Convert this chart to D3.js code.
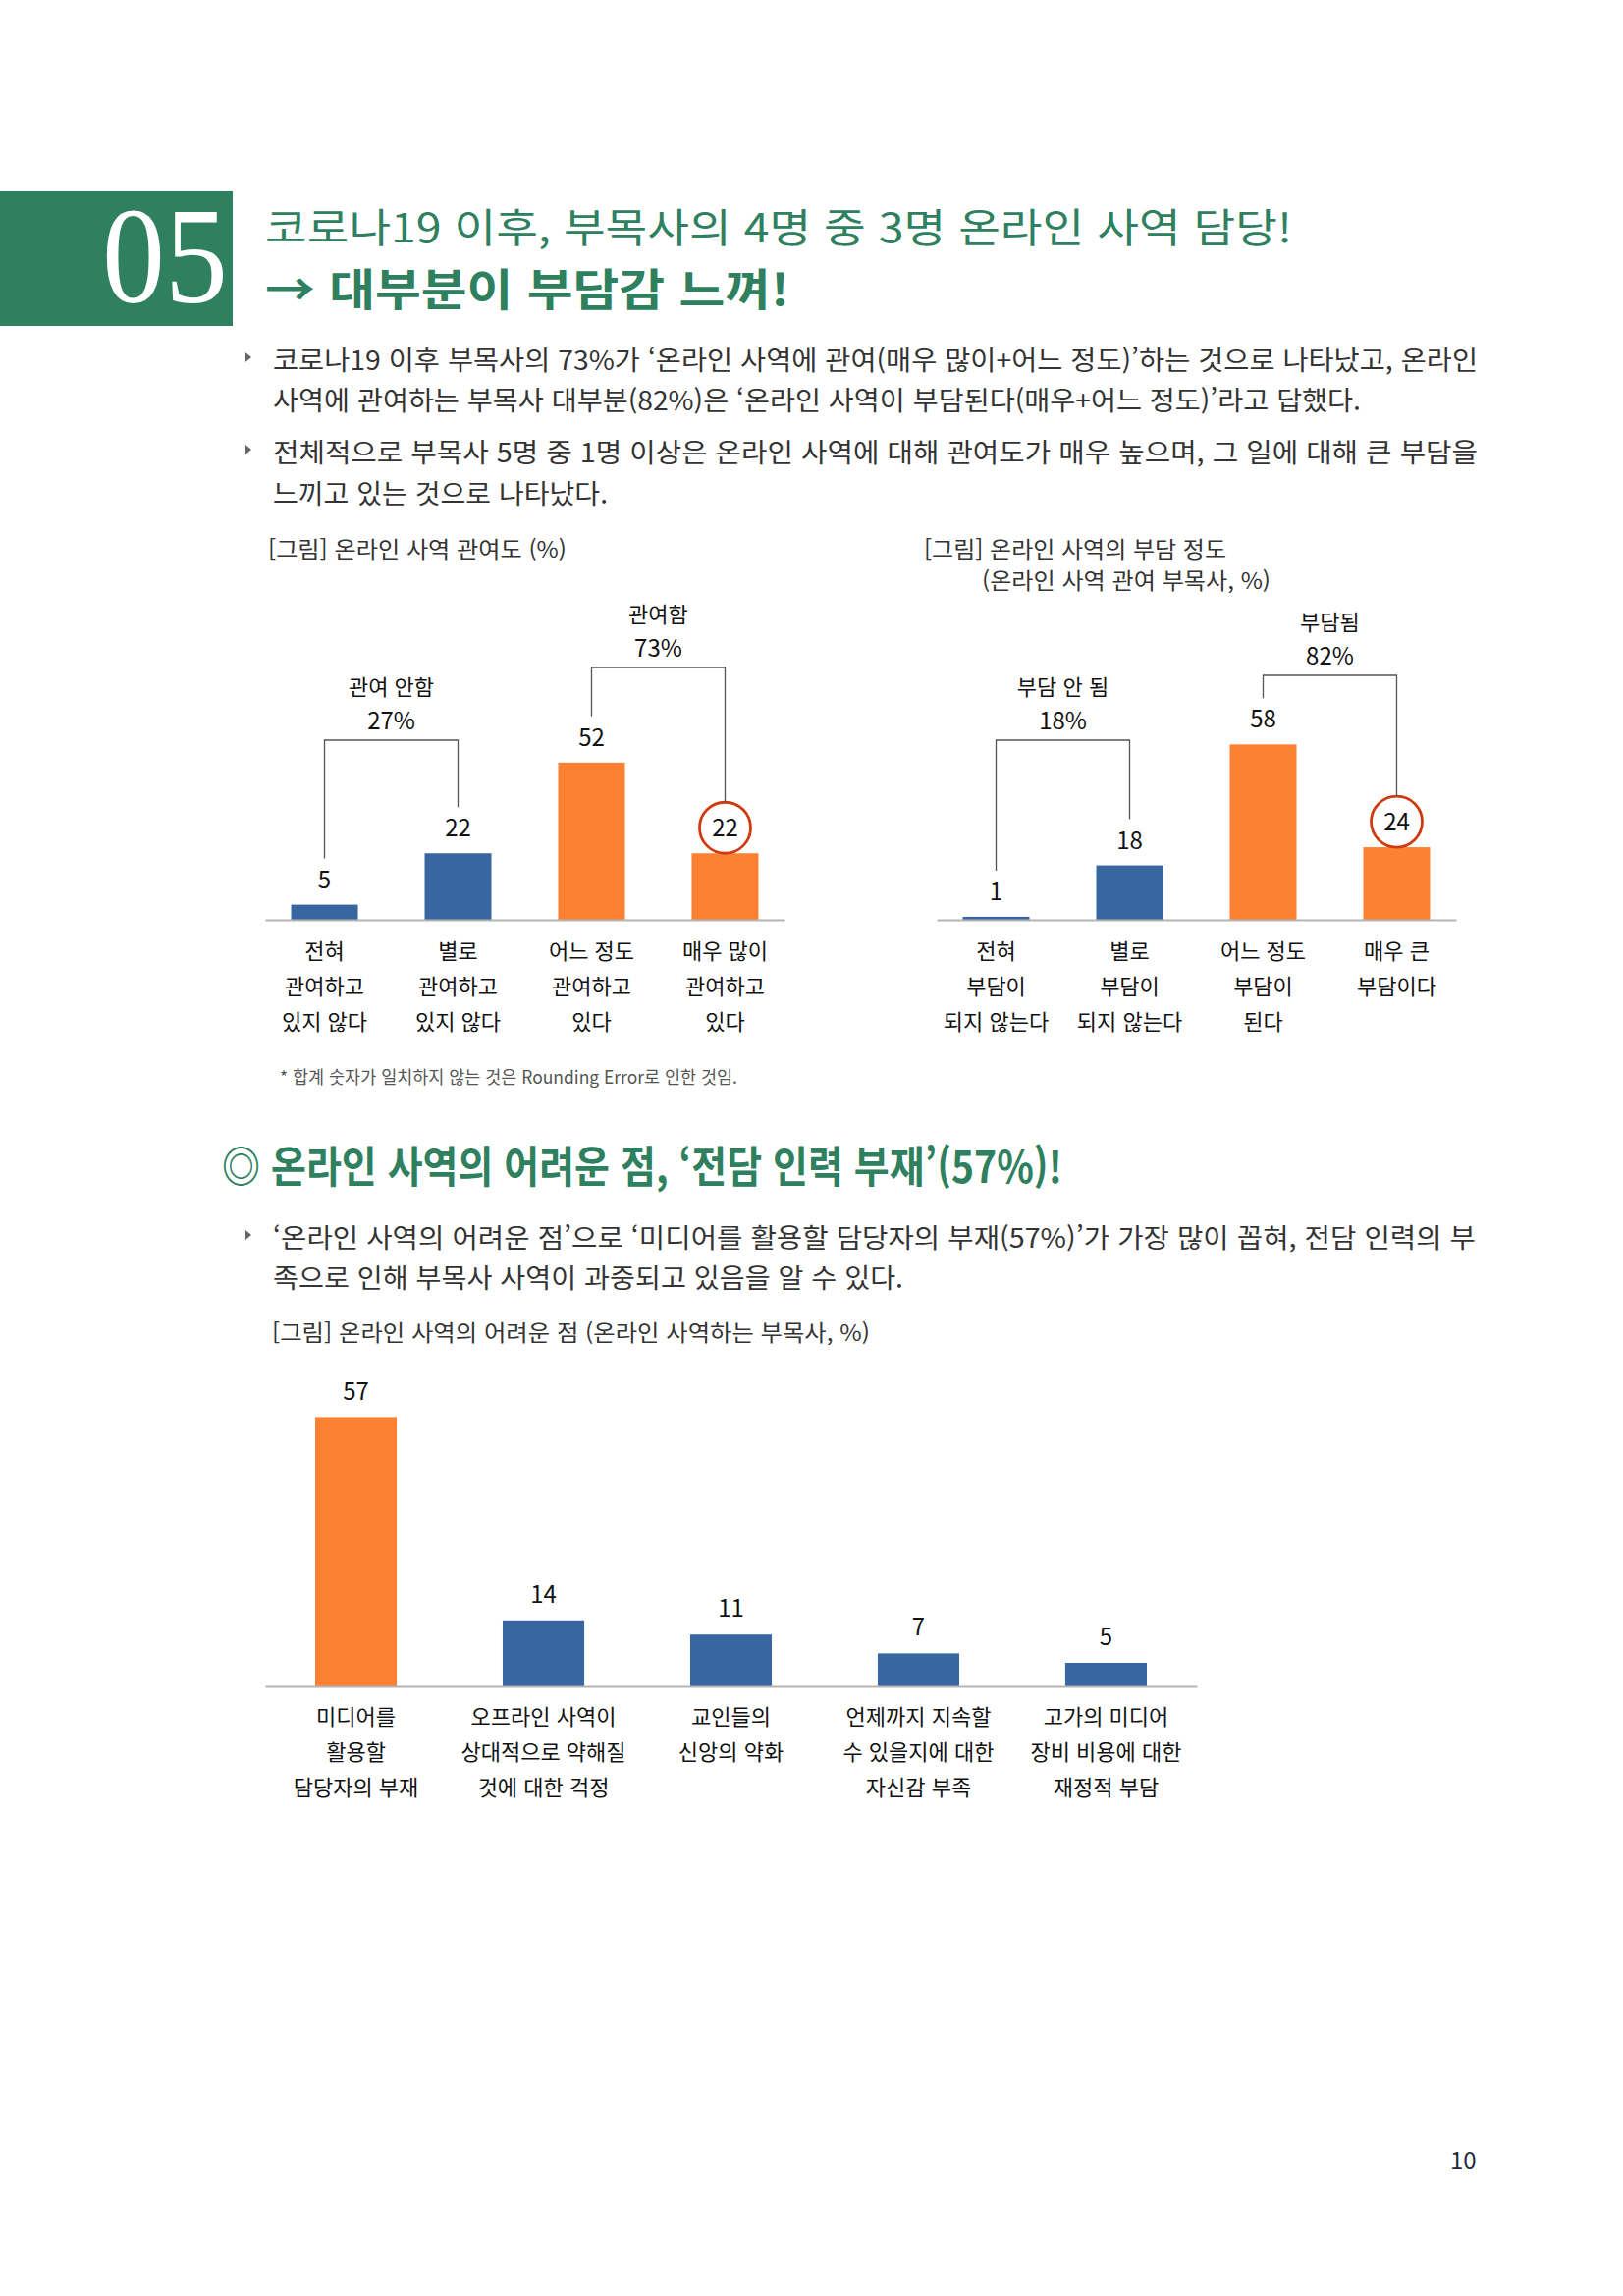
<!DOCTYPE html>
<html lang="ko">
<head>
<meta charset="utf-8">
<script src="https://cdn.jsdelivr.net/npm/d3@7"></script>
<style>
  body { margin: 0; background: #fff; }
  svg { display: block; font-family: "Noto Sans CJK KR", "Noto Sans", sans-serif; }
</style>
</head>
<body>
<div id="page"></div>
<script>
// chart data

var involveCats = ["전혀\n관여하고\n있지 않다", "별로\n관여하고\n있지 않다", "어느 정도\n관여하고\n있다", "매우 많이\n관여하고\n있다"];
var involveValues = [5, 22, 52, 22];
var involveGroupOf = [0, 0, 1, 1];
var involveGroups = ["관여 안함", "관여함"];
var involveTotals = ["27%", "73%"];
var involveCircled = 3;

var burdenCats = ["전혀\n부담이\n되지 않는다", "별로\n부담이\n되지 않는다", "어느 정도\n부담이\n된다", "매우 큰\n부담이다"];
var burdenValues = [1, 18, 58, 24];
var burdenGroupOf = [0, 0, 1, 1];
var burdenGroups = ["부담 안 됨", "부담됨"];
var burdenTotals = ["18%", "82%"];
var burdenCircled = 3;

var hardCats = ["미디어를\n활용할\n담당자의 부재", "오프라인 사역이\n상대적으로 약해질\n것에 대한 걱정", "교인들의\n신앙의 약화", "언제까지 지속할\n수 있을지에 대한\n자신감 부족", "고가의 미디어\n장비 비용에 대한\n재정적 부담"];
var hardValues = [57, 14, 11, 7, 5];

var GREEN = "#2f805f";
var ORANGE = "#fd8033";
var BLUE = "#3866a0";

var svg = d3.select('#page')
    .append('svg')
    .attr('width', 1653)
    .attr('height', 2339);

// fixed-width text line (the page text is justified)
function textLine(txt, x, y, size, width, opts) {
    opts = opts || {};
    var t = svg.append('text')
        .attr('x', x)
        .attr('y', y)
        .style('font-size', size + 'px')
        .style('font-weight', opts.weight || 400)
        .attr('fill', opts.fill || '#333')
        .text(txt);
    if (width) {
        t.attr('textLength', width).attr('lengthAdjust', 'spacingAndGlyphs');
    }
    if (opts.family) t.style('font-family', opts.family);
    return t;
}

function bullet(x, y) {
    svg.append('path')
        .attr('d', 'M' + x + ',' + (y - 5) + 'L' + (x + 6) + ',' + y + 'L' + x + ',' + (y + 5) + 'Z')
        .attr('fill', '#666');
}

// ---- header
svg.append('rect')
    .attr('x', 0).attr('y', 195)
    .attr('width', 237).attr('height', 137)
    .attr('fill', GREEN);

textLine('05', 104, 308, 140, 128, {fill: '#fff', family: '"Liberation Serif", serif'});
textLine('코로나19 이후, 부목사의 4명 중 3명 온라인 사역 담당!', 270, 247, 41, 1046, {fill: GREEN});
textLine('→ 대부분이 부담감 느껴!', 270, 312, 45, 534, {fill: GREEN, weight: 700});

bullet(250, 364);
textLine('코로나19 이후 부목사의 73%가 ‘온라인 사역에 관여(매우 많이+어느 정도)’하는 것으로 나타났고, 온라인', 278, 377, 27, 1227);
textLine('사역에 관여하는 부목사 대부분(82%)은 ‘온라인 사역이 부담된다(매우+어느 정도)’라고 답했다.', 278, 418, 27, 1108);
bullet(250, 458);
textLine('전체적으로 부목사 5명 중 1명 이상은 온라인 사역에 대해 관여도가 매우 높으며, 그 일에 대해 큰 부담을', 278, 471, 27, 1227);
textLine('느끼고 있는 것으로 나타났다.', 278, 513, 27, 341);

// ---- bar chart with group brackets
function bracketChart(cats, values, groupOf, groups, totals, circled, x0, x1, levels) {
    var axisY = 937;
    var r = 26;

    var x_scale = d3.scaleBand()
        .domain(cats)
        .range([x0, x1])
        .paddingInner(0.5)
        .paddingOuter(0.195);

    var y_scale = d3.scaleLinear()
        .domain([0, 60])
        .range([axisY, axisY - 184.8]);

    var color = d3.scaleOrdinal().domain([0, 1]).range([BLUE, ORANGE]);

    var g = svg.append('g');
    var data = cats.map(function(c, i) {
        return {cat: c, value: values[i], group: groupOf[i], idx: i};
    });
    var cx = function(d) { return x_scale(d.cat) + x_scale.bandwidth() / 2; };

    g.selectAll('rect.bar')
        .data(data)
        .enter()
        .append('rect')
        .attr('class', 'bar')
        .attr('x', function(d) { return x_scale(d.cat); })
        .attr('y', function(d) { return y_scale(d.value); })
        .attr('width', x_scale.bandwidth())
        .attr('height', function(d) { return axisY - y_scale(d.value); })
        .attr('fill', function(d) { return color(d.group); });

    // axis line only
    var axis = g.append('g')
        .attr('transform', 'translate(0,' + axisY + ')')
        .call(d3.axisBottom(x_scale).tickSize(0).tickSizeOuter(0).tickFormat(''));
    axis.select('.domain').attr('stroke', '#b4b4b4').attr('stroke-width', 2);

    // value labels
    g.selectAll('text.val')
        .data(data)
        .enter()
        .append('text')
        .attr('class', 'val')
        .attr('x', cx)
        .attr('y', function(d) { return y_scale(d.value) - 17; })
        .attr('text-anchor', 'middle')
        .style('font-size', '24px')
        .attr('fill', '#111')
        .text(function(d) { return d.value; });

    // circled value
    var hd = data[circled];
    g.append('circle')
        .attr('cx', cx(hd))
        .attr('cy', y_scale(hd.value) - r)
        .attr('r', r)
        .attr('fill', 'none')
        .attr('stroke', '#cf3a0e')
        .attr('stroke-width', 2.8);

    // category labels
    g.selectAll('text.cat')
        .data(data)
        .enter()
        .append('text')
        .attr('class', 'cat')
        .attr('text-anchor', 'middle')
        .style('font-size', '22px')
        .attr('fill', '#111')
        .each(function(d) {
            var t = d3.select(this);
            d.cat.split('\n').forEach(function(line, k) {
                t.append('tspan')
                    .attr('x', cx(d))
                    .attr('y', axisY + 40 + k * 36)
                    .text(line);
            });
        });

    // brackets
    groups.forEach(function(name, gi) {
        var members = data.filter(function(d) { return d.group === gi; });
        var a = members[0], b = members[members.length - 1];
        var top = axisY - levels[gi];
        var legEnd = function(d) {
            return d.idx === circled ? y_scale(d.value) - 2 * r : y_scale(d.value) - 47;
        };
        g.append('path')
            .attr('d', 'M' + cx(a) + ',' + legEnd(a) + 'V' + top + 'H' + cx(b) + 'V' + legEnd(b))
            .attr('fill', 'none')
            .attr('stroke', '#555')
            .attr('stroke-width', 1.3);
        var mid = (cx(a) + cx(b)) / 2;
        g.append('text')
            .attr('x', mid).attr('y', top - 46)
            .attr('text-anchor', 'middle')
            .style('font-size', '22px')
            .attr('fill', '#111')
            .text(name);
        g.append('text')
            .attr('x', mid).attr('y', top - 11)
            .attr('text-anchor', 'middle')
            .style('font-size', '24px')
            .attr('fill', '#111')
            .text(totals[gi]);
    });
}

textLine('[그림] 온라인 사역 관여도 (%)', 273, 568, 23, 304);
bracketChart(involveCats, involveValues, involveGroupOf, involveGroups, involveTotals, involveCircled, 270, 799, [183, 257]);
textLine('* 합계 숫자가 일치하지 않는 것은 Rounding Error로 인한 것임.', 285, 1104, 18, 466, {fill: '#555'});

textLine('[그림] 온라인 사역의 부담 정도', 941, 568, 23, 308);
textLine('(온라인 사역 관여 부목사, %)', 1000, 600, 23, 294);
bracketChart(burdenCats, burdenValues, burdenGroupOf, burdenGroups, burdenTotals, burdenCircled, 954, 1483, [183, 249]);

// ---- section 2
textLine('◎ 온라인 사역의 어려운 점, ‘전담 인력 부재’(57%)!', 226, 1205, 44, 856, {fill: GREEN, weight: 700});
bullet(250, 1258);
textLine('‘온라인 사역의 어려운 점’으로 ‘미디어를 활용할 담당자의 부재(57%)’가 가장 많이 꼽혀, 전담 인력의 부', 278, 1271, 27, 1225);
textLine('족으로 인해 부목사 사역이 과중되고 있음을 알 수 있다.', 278, 1312, 27, 642);
textLine('[그림] 온라인 사역의 어려운 점 (온라인 사역하는 부목사, %)', 277, 1366, 23, 609);

(function() {
    var axisY = 1718;
    var x_scale = d3.scaleBand()
        .domain(hardCats)
        .range([270, 1219])
        .paddingInner(0.565)
        .paddingOuter(0.267);
    var y_scale = d3.scaleLinear()
        .domain([0, 57])
        .range([axisY, axisY - 57 * 4.8]);
    var maxV = d3.max(hardValues);
    var data = hardCats.map(function(c, i) { return {cat: c, value: hardValues[i]}; });
    var cx = function(d) { return x_scale(d.cat) + x_scale.bandwidth() / 2; };
    var g = svg.append('g');

    g.selectAll('rect')
        .data(data)
        .enter()
        .append('rect')
        .attr('x', function(d) { return x_scale(d.cat); })
        .attr('y', function(d) { return y_scale(d.value); })
        .attr('width', x_scale.bandwidth())
        .attr('height', function(d) { return axisY - y_scale(d.value); })
        .attr('fill', function(d) { return d.value === maxV ? ORANGE : BLUE; });

    var axis = g.append('g')
        .attr('transform', 'translate(0,' + axisY + ')')
        .call(d3.axisBottom(x_scale).tickSize(0).tickSizeOuter(0).tickFormat(''));
    axis.select('.domain').attr('stroke', '#b4b4b4').attr('stroke-width', 2);

    g.selectAll('text.val')
        .data(data)
        .enter()
        .append('text')
        .attr('class', 'val')
        .attr('x', cx)
        .attr('y', function(d) { return y_scale(d.value) - 18; })
        .attr('text-anchor', 'middle')
        .style('font-size', '24px')
        .attr('fill', '#111')
        .text(function(d) { return d.value; });

    g.selectAll('text.cat')
        .data(data)
        .enter()
        .append('text')
        .attr('class', 'cat')
        .attr('text-anchor', 'middle')
        .style('font-size', '22px')
        .attr('fill', '#111')
        .each(function(d) {
            var t = d3.select(this);
            d.cat.split('\n').forEach(function(line, k) {
                t.append('tspan')
                    .attr('x', cx(d))
                    .attr('y', axisY + 39 + k * 36)
                    .text(line);
            });
        });
})();

textLine('10', 1477, 2210, 24, null, {fill: '#1c2b3a'});
</script>
</body>
</html>
